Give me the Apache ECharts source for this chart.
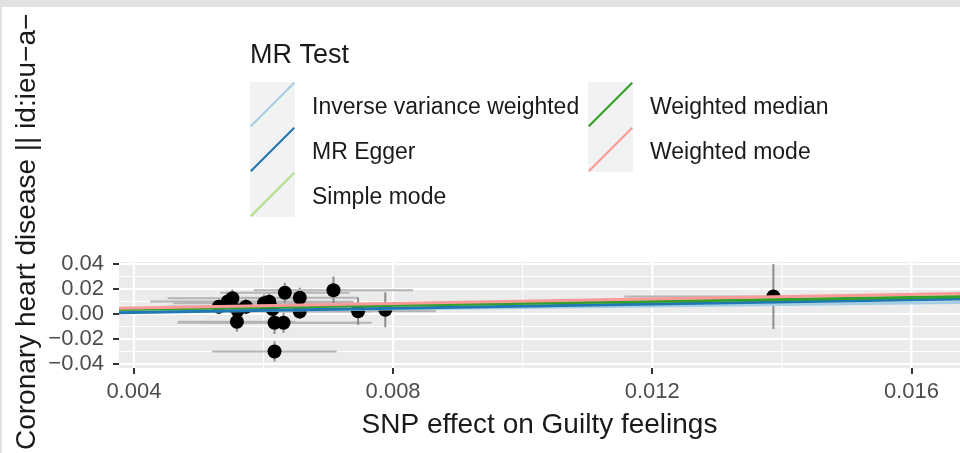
<!DOCTYPE html>
<html>
<head>
<meta charset="utf-8">
<script src="https://cdn.jsdelivr.net/npm/echarts@6/dist/echarts.min.js"></script>
<style>
html,body{margin:0;padding:0;background:#fff;}
#chart{width:960px;height:453px;}
</style>
</head>
<body>
<div id="chart"></div>
<script>
// ---- data ----
const xTicks = [0.004, 0.008, 0.012, 0.016];
const xMinorTicks = [0.006, 0.010, 0.014];
const yTicks = [-0.04, -0.02, 0.00, 0.02, 0.04];
const yMinorTicks = [-0.03, -0.01, 0.01, 0.03];
const xRange = [0.00377, 0.01675];
const yRange = [-0.0432, 0.0416];

// SNP effects: exposure (x), outcome (y) and their standard errors
const snpX   = [0.00531, 0.00552, 0.00545, 0.00560, 0.00559, 0.00573, 0.00601, 0.00609, 0.00614, 0.00617, 0.00631, 0.00633, 0.00617, 0.00656, 0.00656, 0.00708, 0.00746, 0.00788, 0.01387];
const snpY   = [0.0058, 0.0126, 0.0100, 0.0030, -0.0062, 0.0058, 0.0086, 0.0098, 0.0040, -0.0070, -0.0070, 0.0170, -0.0300, 0.0130, 0.0020, 0.0190, 0.0022, 0.0034, 0.0140];
const snpXse = [0.0008, 0.0010, 0.0012, 0.0011, 0.0009, 0.0012, 0.0014, 0.0013, 0.0012, 0.0015, 0.0012, 0.0010, 0.00096, 0.0009, 0.0011, 0.00123, 0.0012, 0.0007, 0.0023];
const snpYse = [0.006, 0.007, 0.006, 0.006, 0.008, 0.006, 0.007, 0.007, 0.008, 0.009, 0.008, 0.008, 0.008, 0.008, 0.006, 0.011, 0.011, 0.014, 0.026];

// MR method lines (y at left and right end of the x range)
const methodNames = ['Inverse variance weighted', 'MR Egger', 'Simple mode', 'Weighted median', 'Weighted mode'];
const methodColors = ['#a6cee3', '#1f78b4', '#b2df8a', '#33a02c', '#fb9a99'];
const lineX = [0.00377, 0.01675];
const ivwY     = [0.0016, 0.0092];
const eggerY   = [0.0010, 0.0120];
const simpleY  = [0.0042, 0.0158];
const wmedianY = [0.0035, 0.0138];
const wmodeY   = [0.0046, 0.0164];
const methodY = [ivwY, eggerY, simpleY, wmedianY, wmodeY];

const FONT = '"Liberation Sans", Arial, sans-serif';

const chart = echarts.init(document.getElementById('chart'));

// panel grid lines: [x, y, orientation (0 vertical, 1 horizontal), major flag]
const gridData = [];
xTicks.forEach(v => gridData.push([v, yRange[0], 0, 1]));
xMinorTicks.forEach(v => gridData.push([v, yRange[0], 0, 0]));
yTicks.forEach(v => gridData.push([xRange[0], v, 1, 1]));
yMinorTicks.forEach(v => gridData.push([xRange[0], v, 1, 0]));

const errData = snpX.map((x, i) => [x, snpY[i], snpXse[i], snpYse[i]]);
const pointData = snpX.map((x, i) => [x, snpY[i]]);

const lineSeries = methodNames.map((name, i) => ({
  name: name,
  type: 'line',
  data: lineX.map((x, j) => [x, methodY[i][j]]),
  showSymbol: false,
  symbol: 'none',
  lineStyle: {color: methodColors[i], width: 2.8},
  itemStyle: {color: methodColors[i]},
  z: 5 + i,
  silent: true,
  clip: true
}));

const legendBase = {
  orient: 'vertical', top: 82, padding: 0,
  itemWidth: 45, itemHeight: 45, itemGap: 0,
  icon: 'path://M0,43.5 L43.5,0 L45,1.5 L1.5,45 Z',
  selectedMode: false,
  formatter: name => '{t|' + name + '}',
  textStyle: {
    fontSize: 23, color: '#1a1a1a', fontFamily: FONT,
    rich: {t: {fontSize: 23, color: '#1a1a1a', fontFamily: FONT, padding: [7, 0, 0, 12]}}
  }
};

const option = {
  animation: false,
  backgroundColor: '#ffffff',
  grid: {
    left: 119, right: 0, top: 262, bottom: 85,
    show: true, backgroundColor: '#ebebeb', borderWidth: 0
  },
  xAxis: {
    type: 'value', min: xRange[0], max: xRange[1],
    axisLine: {show: false, onZero: false},
    splitLine: {show: false},
    axisTick: {show: true, customValues: xTicks, length: 6, lineStyle: {color: '#333333', width: 2}},
    axisLabel: {customValues: xTicks, formatter: v => v.toFixed(3), fontSize: 22, color: '#4d4d4d', margin: 13, fontFamily: FONT},
    name: 'SNP effect on Guilty feelings',
    nameLocation: 'middle', nameGap: 43,
    nameTextStyle: {fontSize: 28, color: '#1a1a1a', fontFamily: FONT}
  },
  yAxis: {
    type: 'value', min: yRange[0], max: yRange[1],
    axisLine: {show: false, onZero: false},
    splitLine: {show: false},
    axisTick: {show: true, customValues: yTicks, length: 6, lineStyle: {color: '#333333', width: 2}},
    axisLabel: {customValues: yTicks, formatter: v => (v < -1e-9 ? '\u2212' : '') + Math.abs(v).toFixed(2), fontSize: 22, color: '#4d4d4d', margin: 15, fontFamily: FONT}
  },
  legend: [
    Object.assign({}, legendBase, {left: 250, data: methodNames.slice(0, 3)}),
    Object.assign({}, legendBase, {left: 588, data: methodNames.slice(3)})
  ],
  graphic: [
    {type: 'rect', shape: {x: 250, y: 82, width: 45, height: 135}, style: {fill: '#f2f2f2'}, z: -1, silent: true},
    {type: 'rect', shape: {x: 588, y: 82, width: 45, height: 90}, style: {fill: '#f2f2f2'}, z: -1, silent: true},
    {type: 'text', x: 250, y: 56, style: {text: 'MR Test', font: '27px ' + FONT, fill: '#1a1a1a', textAlign: 'left', textVerticalAlign: 'middle'}},
    {type: 'text', x: 27, y: 450, rotation: Math.PI / 2, style: {text: 'Coronary heart disease || id:ieu\u2212a\u2212', font: '28px ' + FONT, fill: '#1a1a1a', textAlign: 'left', textVerticalAlign: 'middle'}},
    {type: 'rect', shape: {x: 0, y: 0, width: 960, height: 7}, style: {fill: '#e2e2e2'}, z: 100, silent: true},
    {type: 'rect', shape: {x: 0, y: 0, width: 2, height: 453}, style: {fill: '#e2e2e2'}, z: 100, silent: true}
  ],
  series: [
    {
      type: 'custom', data: gridData, z: 1, silent: true,
      renderItem: function (params, api) {
        const orient = api.value(2), major = api.value(3);
        let p0, p1;
        if (orient === 0) {
          p0 = api.coord([api.value(0), yRange[0]]);
          p1 = api.coord([api.value(0), yRange[1]]);
        } else {
          p0 = api.coord([xRange[0], api.value(1)]);
          p1 = api.coord([xRange[1], api.value(1)]);
        }
        return {type: 'line', shape: {x1: p0[0], y1: p0[1], x2: p1[0], y2: p1[1]},
                style: {stroke: '#ffffff', lineWidth: major ? 2.2 : 1.1}};
      }
    },
    {
      type: 'custom', data: errData, z: 2, silent: true, clip: true,
      renderItem: function (params, api) {
        const x = api.value(0), y = api.value(1), xs = api.value(2), ys = api.value(3);
        const v0 = api.coord([x, y - ys]), v1 = api.coord([x, y + ys]);
        const h0 = api.coord([x - xs, y]), h1 = api.coord([x + xs, y]);
        return {
          type: 'group',
          children: [
            {type: 'line', shape: {x1: v0[0], y1: v0[1], x2: v1[0], y2: v1[1]}, style: {stroke: '#8c8c8c', lineWidth: 2}},
            {type: 'line', shape: {x1: h0[0], y1: h0[1], x2: h1[0], y2: h1[1]}, style: {stroke: '#b5b5b5', lineWidth: 2.2}}
          ]
        };
      }
    },
    {
      type: 'scatter', data: pointData, symbolSize: 14, z: 3, silent: true,
      itemStyle: {color: '#000000', opacity: 1}
    }
  ].concat(lineSeries)
};

chart.setOption(option);
</script>
</body>
</html>
